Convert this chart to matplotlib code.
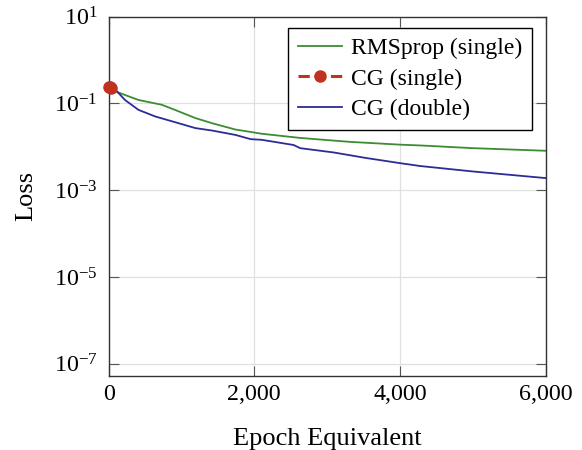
import matplotlib
matplotlib.use("Agg")
import matplotlib.pyplot as plt
from matplotlib.ticker import FuncFormatter, NullLocator

# data (loss on log scale)
rms_epoch = [0, 90, 410, 730, 910, 1190, 1420, 1740, 1950, 2100, 2630, 3310, 4000, 4300, 5000, 6000]
rms_loss = [0.23, 0.19, 0.12, 0.093, 0.071, 0.046, 0.035, 0.025, 0.022, 0.020, 0.016, 0.013,
            0.0112, 0.0107, 0.0093, 0.0081]

cg_single_epoch = [0, 15, 30]
cg_single_loss = [0.24, 0.235, 0.23]

cg_double_epoch = [0, 90, 225, 410, 640, 960, 1190, 1420, 1740, 1950, 2100, 2540, 2630, 3090,
                   3540, 4000, 4280, 5000, 6000]
cg_double_loss = [0.23, 0.21, 0.12, 0.071, 0.050, 0.035, 0.027, 0.0237, 0.0188, 0.0150, 0.0145,
                  0.0110, 0.0093, 0.0074, 0.0055, 0.0042, 0.0036, 0.0027, 0.0019]

xticks = [0, 2000, 4000, 6000]
yticks = [1e1, 1e-1, 1e-3, 1e-5, 1e-7]

plt.rcParams['font.family'] = ['Liberation Serif', 'DejaVu Serif']
plt.rcParams['mathtext.fontset'] = 'stix'

fig = plt.figure(figsize=(5.82, 4.5), dpi=100)
ax = fig.add_axes([0.1866, 0.1644, 0.9376 - 0.1866, 0.963 - 0.1644])

ax.plot(rms_epoch, rms_loss, color='#3c8c32', lw=1.3, label='RMSprop (single)')
ax.plot(cg_single_epoch, cg_single_loss, color='#c0311f', lw=2.2, ls='--', marker='o',
        markersize=8, label='CG (single)', clip_on=False, zorder=5)
ax.plot(cg_double_epoch, cg_double_loss, color='#2c2c96', lw=1.3, label='CG (double)')

ax.set_yscale('log')
ax.set_xlim(0, 6000)
ax.set_ylim(5.2e-8, 10)
ax.set_xticks(xticks)
ax.set_yticks(yticks)
ax.yaxis.set_minor_locator(NullLocator())
ax.xaxis.set_major_formatter(FuncFormatter(lambda v, p: '{:,}'.format(int(v))))

ax.grid(True, color='#e0e0e0', lw=0.9)
ax.set_axisbelow(True)
ax.tick_params(direction='in', length=7, width=0.8, color='#555555', top=True, right=True,
               labelsize=17.3)
ax.tick_params(axis='y', pad=8)
ax.tick_params(axis='x', pad=6)
for s in ax.spines.values():
    s.set_color('#333333')
    s.set_linewidth(1.0)

ax.set_xlabel('Epoch Equivalent', fontsize=19, labelpad=16)
ax.set_ylabel('Loss', fontsize=19, labelpad=12)

leg = ax.legend(loc='upper right', bbox_to_anchor=(0.9686, 0.9686), borderaxespad=0,
                fontsize=17, frameon=True, fancybox=False, framealpha=1,
                edgecolor='black', handlelength=1.86, labelspacing=0.385,
                handletextpad=0.4)
leg.get_frame().set_linewidth(1.0)

fig.savefig('out.png', dpi=100)
